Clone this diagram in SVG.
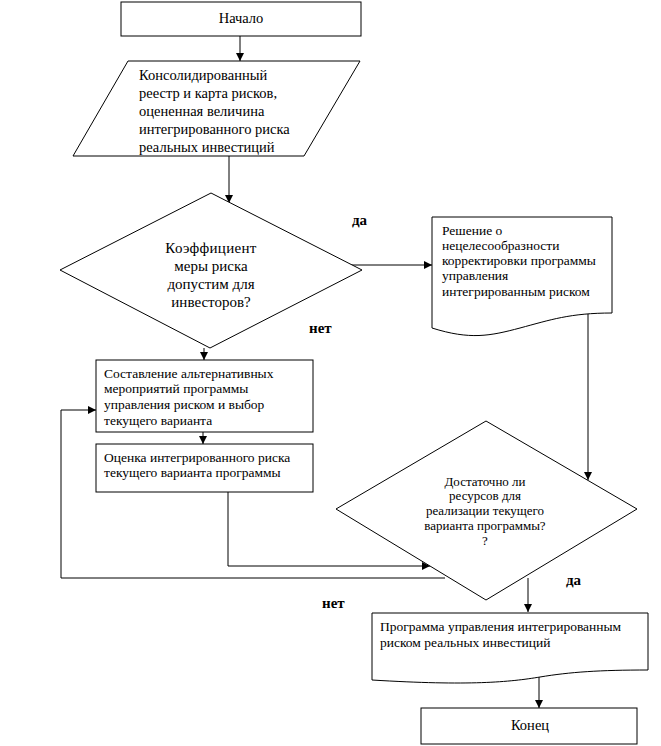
<svg xmlns="http://www.w3.org/2000/svg" width="661" height="746" viewBox="0 0 661 746" font-family="'Liberation Serif', 'Times New Roman', serif">
<style>
.s{fill:#fff;stroke:#000;stroke-width:1}
.c{fill:none;stroke:#000;stroke-width:1}
text{font-family:'Liberation Serif','Times New Roman',serif;fill:#000}
.t14{font-size:14.5px}
.t13{font-size:13.5px}
.t12{font-size:13px}
.t15{font-size:15px}
.m{text-anchor:middle}
.b{font-weight:bold;font-size:15px}
</style>
<defs>
<marker id="ah" viewBox="0 0 10 10" refX="10" refY="5" markerWidth="8" markerHeight="8" markerUnits="userSpaceOnUse" orient="auto">
<path d="M0,0 L10,5 L0,10 z" fill="#000"/>
</marker>
</defs>
<rect width="661" height="746" fill="#fff"/>
<g id="connectors">
<line class="c" x1="240" y1="36" x2="240" y2="61" marker-end="url(#ah)"/>
<line class="c" x1="229" y1="156" x2="229" y2="203" marker-end="url(#ah)"/>
<line class="c" x1="350" y1="265" x2="432" y2="265" marker-end="url(#ah)"/>
<line class="c" x1="204" y1="348" x2="204" y2="360" marker-end="url(#ah)"/>
<line class="c" x1="203" y1="432" x2="203" y2="444" marker-end="url(#ah)"/>
<polyline class="c" points="228,492 228,566 430,566" marker-end="url(#ah)"/>
<polyline class="c" points="445,578 61,578 61,410 96,410" marker-end="url(#ah)"/>
<line class="c" x1="588" y1="313" x2="588" y2="480" marker-end="url(#ah)"/>
<line class="c" x1="528" y1="578" x2="528" y2="612" marker-end="url(#ah)"/>
<line class="c" x1="539" y1="672" x2="539" y2="708" marker-end="url(#ah)"/>
<text class="b" x="352" y="225">да</text>
<text class="b" x="309" y="333">нет</text>
<text class="b" x="566" y="585">да</text>
<text class="b" x="322" y="608">нет</text>
</g>
<g id="start">
<rect class="s" x="121" y="2" width="240" height="34"/>
<text class="t14 m" x="241" y="23">Начало</text>
</g>
<g id="input">
<polygon class="s" points="128,61 360,61 304,156 73,156"/>
<text class="t14" x="139" y="80">Консолидированный</text>
<text class="t14" x="139" y="98">реестр и карта рисков,</text>
<text class="t14" x="139" y="116">оцененная величина</text>
<text class="t14" x="139" y="134">интегрированного риска</text>
<text class="t14" x="139" y="152">реальных инвестиций</text>
</g>
<g id="decision1">
<polygon class="s" points="211,193 362,270 210,348 60,270"/>
<text class="t15 m" x="211" y="253" letter-spacing="0.3">Коэффициент</text>
<text class="t15 m" x="211" y="271">меры  риска</text>
<text class="t15 m" x="211" y="289">допустим для</text>
<text class="t15 m" x="211" y="307">инвесторов?</text>
</g>
<g id="decision-doc">
<path class="s" d="M432,217 H612 V313 C570,313 550,320 520,328 C490,336 470,340 432,328 Z"/>
<text class="t13" x="442" y="235">Решение о</text>
<text class="t13" x="442" y="250">нецелесообразности</text>
<text class="t13" x="442" y="265">корректировки программы</text>
<text class="t13" x="442" y="280">управления</text>
<text class="t13" x="442" y="296">интегрированным риском</text>
</g>
<g id="alternatives">
<rect class="s" x="96" y="360" width="217" height="72"/>
<text class="t13" x="104" y="378">Составление  альтернативных</text>
<text class="t13" x="104" y="393">мероприятий программы</text>
<text class="t13" x="104" y="409">управления риском и выбор</text>
<text class="t13" x="104" y="425">текущего варианта</text>
</g>
<g id="assessment">
<rect class="s" x="96" y="444" width="217" height="48"/>
<text class="t13" x="104" y="462">Оценка интегрированного  риска</text>
<text class="t13" x="104" y="477">текущего варианта программы</text>
</g>
<g id="decision2">
<polygon class="s" points="486,421 637,509 486,600 336,509"/>
<text class="t12 m" x="485" y="486">Достаточно ли</text>
<text class="t12 m" x="485" y="500">ресурсов для</text>
<text class="t12 m" x="485" y="515">реализации текущего</text>
<text class="t12 m" x="485" y="530">варианта программы?</text>
<text class="t12 m" x="485" y="545">?</text>
</g>
<g id="program">
<path class="s" d="M372,613 H648 V670 C600,670 570,672 540,677 C510,682 470,686 372,680 Z"/>
<text class="t13" x="380" y="631" font-size="13.8">Программа  управления интегрированным</text>
<text class="t13" x="380" y="647" font-size="13.8">риском реальных инвестиций</text>
</g>
<g id="end">
<rect class="s" x="421" y="708" width="216" height="36"/>
<text class="t14 m" x="530" y="730">Конец</text>
</g>
</svg>
